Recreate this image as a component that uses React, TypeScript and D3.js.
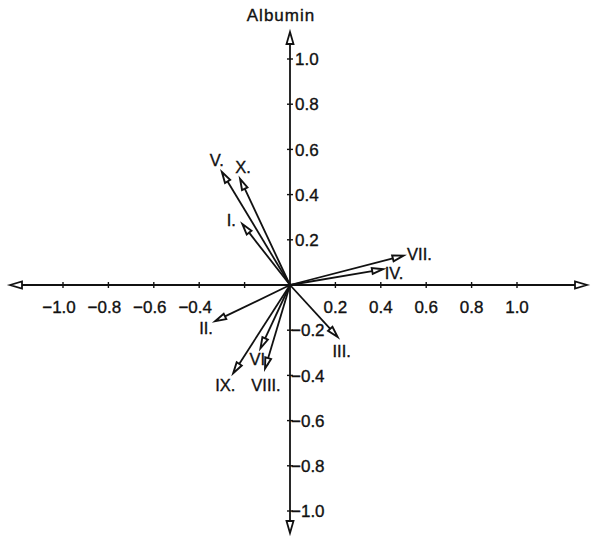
import React from "react";
import * as d3 from "d3";

// Loading vectors of the ten fractions on the two principal components
const fractionNames = ["I.", "II.", "III.", "IV.", "V.", "VI.", "VII.", "VIII.", "IX.", "X."];
const loadingX = [-0.21, -0.33, 0.21, 0.41, -0.3, -0.13, 0.5, -0.11, -0.25, -0.22];
const loadingY = [0.27, -0.16, -0.23, 0.07, 0.5, -0.28, 0.13, -0.37, -0.39, 0.47];

// Axis tick values and their printed labels
const xTickValues = [-1.0, -0.8, -0.6, -0.4, -0.2, 0.2, 0.4, 0.6, 0.8, 1.0];
const xTickLabels = ["−1.0", "−0.8", "−0.6", "−0.4", "", "0.2", "0.4", "0.6", "0.8", "1.0"];
const yTickValues = [1.0, 0.8, 0.6, 0.4, 0.2, -0.2, -0.4, -0.6, -0.8, -1.0];
const yTickLabels = ["1.0", "0.8", "0.6", "0.4", "0.2", "−0.2", "−0.4", "−0.6", "−0.8", "−1.0"];
const yAxisTitle = "Albumin";

// Where each vector's label sits relative to its arrow tip (px)
const labelOffset: Record<string, [number, number]> = {
  "I.": [-11, -4],
  "II.": [-9, 7],
  "III.": [4, 14],
  "IV.": [11, 4],
  "V.": [-5, -12],
  "VI.": [-1, 11],
  "VII.": [16, -2],
  "VIII.": [1, 16],
  "IX.": [-8, 12],
  "X.": [3, -12],
};

const W = 591;
const H = 540;
const FONT = "'Liberation Sans', Arial, sans-serif";
const INK = "#111";

function arrowHead(tipX: number, tipY: number, angle: number, len: number, half: number) {
  const ux = Math.cos(angle);
  const uy = Math.sin(angle);
  const bx = tipX - ux * len;
  const by = tipY - uy * len;
  const px = -uy * half;
  const py = ux * half;
  return `M${tipX},${tipY}L${bx + px},${by + py}L${bx - px},${by - py}Z`;
}

export default function App() {
  const x = d3.scaleLinear().domain([-1, 1]).range([63, 517]);
  const y = d3.scaleLinear().domain([-1, 1]).range([511, 59]);
  const x0 = x(0);
  const y0 = y(0);

  const axisLeft = 10;
  const axisRight = 587;
  const axisTop = 32;
  const axisBottom = 533;

  const vectors = fractionNames.map((name, i) => ({
    name,
    tx: x(loadingX[i]),
    ty: y(loadingY[i]),
  }));

  const textProps = { fill: INK, stroke: INK, strokeWidth: 0.35 };

  return (
    <svg
      width={W}
      height={H}
      style={{ position: "absolute", left: 0, top: 0, background: "#fff" }}
      fontFamily={FONT}
    >
      <rect width={W} height={H} fill="#fff" />

      {/* axes */}
      <line x1={axisLeft + 8} y1={y0} x2={axisRight - 8} y2={y0} stroke={INK} strokeWidth={1.8} />
      <line x1={x0} y1={axisTop + 8} x2={x0} y2={axisBottom - 8} stroke={INK} strokeWidth={1.8} />
      <path d={arrowHead(axisLeft, y0, Math.PI, 12, 3.5)} fill="#fff" stroke={INK} strokeWidth={1.8} />
      <path d={arrowHead(axisRight, y0, 0, 12, 3.5)} fill="#fff" stroke={INK} strokeWidth={1.8} />
      <path d={arrowHead(x0, axisTop, -Math.PI / 2, 12, 3.5)} fill="#fff" stroke={INK} strokeWidth={1.8} />
      <path d={arrowHead(x0, axisBottom, Math.PI / 2, 12, 3.5)} fill="#fff" stroke={INK} strokeWidth={1.8} />

      {/* x ticks */}
      {xTickValues.map((v, i) => (
        <g key={"xt" + i}>
          <line x1={x(v)} y1={y0 - 3} x2={x(v)} y2={y0 + 3} stroke={INK} strokeWidth={1.4} />
          {xTickLabels[i] && (
            <text
              x={x(v) + (v < 0 ? -4 : 0)}
              y={313}
              textAnchor="middle"
              fontSize={17}
              {...textProps}
            >
              {xTickLabels[i]}
            </text>
          )}
        </g>
      ))}

      {/* y ticks */}
      {yTickValues.map((v, i) => (
        <g key={"yt" + i}>
          <line x1={x0 - 3} y1={y(v)} x2={x0 + 3} y2={y(v)} stroke={INK} strokeWidth={1.4} />
          <text
            x={v < 0 ? x0 + 1 : x0 + 5}
            y={y(v)}
            dy="0.36em"
            fontSize={17}
            {...textProps}
          >
            {yTickLabels[i]}
          </text>
        </g>
      ))}

      <text x={281} y={21} textAnchor="middle" fontSize={17} letterSpacing={1} {...textProps}>
        {yAxisTitle}
      </text>

      {/* loading vectors */}
      {vectors.map((d) => {
        const ang = Math.atan2(d.ty - y0, d.tx - x0);
        const len = 11;
        const bx = d.tx - Math.cos(ang) * len;
        const by = d.ty - Math.sin(ang) * len;
        const [ox, oy] = labelOffset[d.name];
        return (
          <g key={d.name}>
            <line x1={x0} y1={y0} x2={bx} y2={by} stroke={INK} strokeWidth={1.8} />
            <path
              d={arrowHead(d.tx, d.ty, ang, len, 3)}
              fill="#fff"
              stroke={INK}
              strokeWidth={1.9}
            />
            <text
              x={d.tx + ox}
              y={d.ty + oy}
              dy="0.36em"
              textAnchor="middle"
              fontSize={16.5}
              {...textProps}
            >
              {d.name}
            </text>
          </g>
        );
      })}
    </svg>
  );
}
